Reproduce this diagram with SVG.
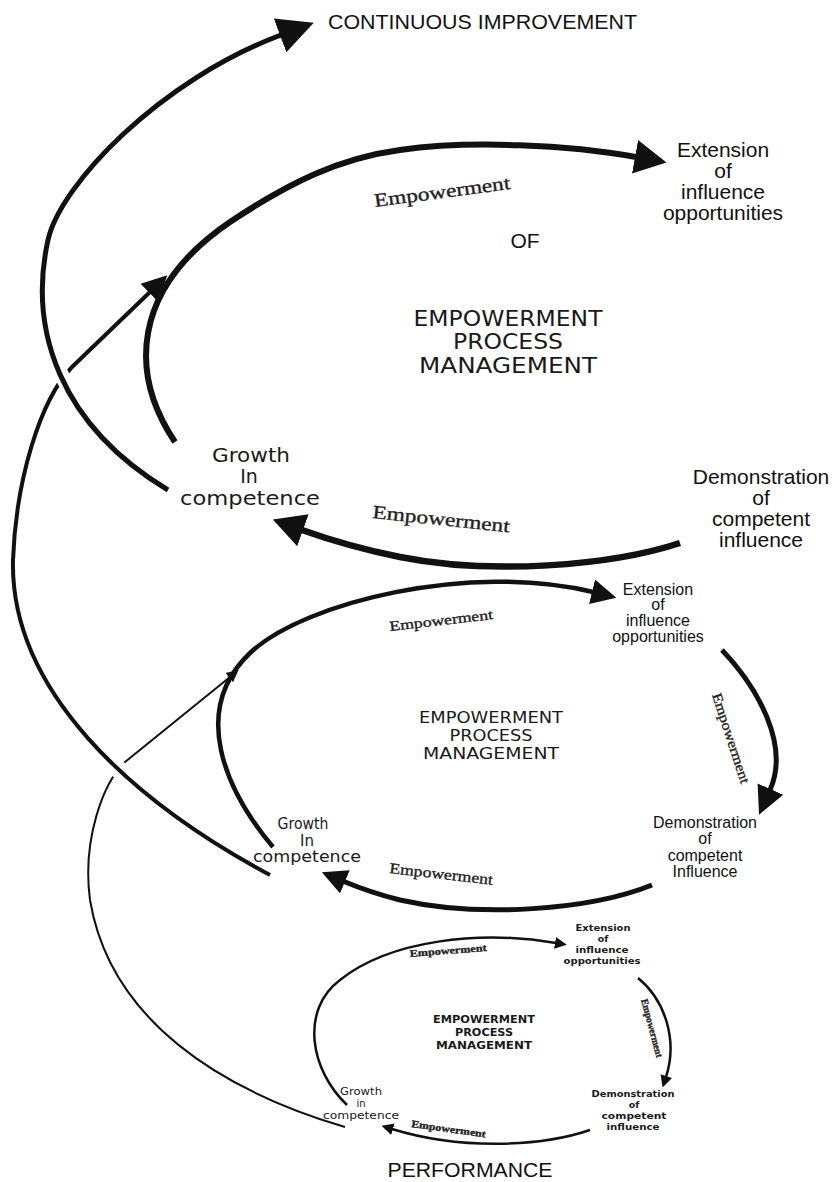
<svg xmlns="http://www.w3.org/2000/svg" width="834" height="1182" viewBox="0 0 834 1182">
<style>
.sans{font-family:"Liberation Sans",Arial,sans-serif;fill:#111}
.geo{font-family:"DejaVu Sans",Verdana,sans-serif;fill:#1a1a1a}
.geob{font-family:"DejaVu Sans",Verdana,sans-serif;fill:#1a1a1a;font-weight:bold}
.serif{font-family:"Liberation Serif","Times New Roman",serif;fill:#222;stroke:#222;stroke-width:0.35}
.c{text-anchor:middle}
.arc{fill:none;stroke:#111;stroke-linecap:butt;stroke-linejoin:round}
.halo{fill:none;stroke:#fff;stroke-linecap:butt}
</style>
<defs>
<marker id="ahXL" markerUnits="userSpaceOnUse" viewBox="0 -20 40 40" markerWidth="40" markerHeight="40" refX="1" refY="0" orient="auto"><path d="M0,-18 L36,0 L0,18 z" fill="#111"/></marker>
<marker id="ahL" markerUnits="userSpaceOnUse" viewBox="0 -20 40 40" markerWidth="40" markerHeight="40" refX="1" refY="0" orient="auto"><path d="M0,-17 L32,0 L0,17 z" fill="#111"/></marker>
<marker id="ahML" markerUnits="userSpaceOnUse" viewBox="0 -20 40 40" markerWidth="40" markerHeight="40" refX="1" refY="0" orient="auto"><path d="M0,-14 L28,0 L0,14 z" fill="#111"/></marker>
<marker id="ahM" markerUnits="userSpaceOnUse" viewBox="0 -20 40 40" markerWidth="40" markerHeight="40" refX="1" refY="0" orient="auto"><path d="M0,-12.5 L25,0 L0,12.5 z" fill="#111"/></marker>
<marker id="ahS" markerUnits="userSpaceOnUse" viewBox="0 -10 20 20" markerWidth="20" markerHeight="20" refX="1" refY="0" orient="auto"><path d="M0,-6 L12,0 L0,6 z" fill="#111"/></marker>
</defs>

<g id="connectors">
  <!-- thin spiral arc from lower loop to middle loop -->
  <path class="arc" stroke-width="2" d="M345,1127 C220,1090 110,1020 90,900 C82,840 103,783 125,762 L230,677" marker-end="url(#ahS)"/>
  <path class="halo" stroke-width="18" d="M137,786 L118,769 L100,751"/>
  <!-- spiral arc from middle loop to top loop -->
  <path class="arc" stroke-width="4" d="M270,875 C130,800 10,690 13,560 C16,480 40,400 72,367 L150,292" marker-end="url(#ahM)"/>
  <path class="halo" stroke-width="15" d="M76,402 L61,374 L51,346"/>
  <!-- spiral arc from top loop to continuous improvement -->
  <path class="arc" stroke-width="5" d="M168,490 C60,425 28,330 48,240 C60,185 160,80 281,35" marker-end="url(#ahXL)"/>

  <!-- top loop -->
  <path class="arc" stroke-width="6" d="M175,442 C130,375 130,290 230,222 C290,182 340,158 400,150 C470,140 570,145 636,157" marker-end="url(#ahL)"/>
  <path class="arc" stroke-width="6.5" d="M680,543 C610,566 490,575 400,557 C360,549 330,540 302,530" marker-end="url(#ahL)"/>

  <!-- middle loop -->
  <path class="arc" stroke-width="4.5" d="M273,847 C225,790 190,710 250,653 C304,602 470,562 593,592" marker-end="url(#ahM)"/>
  <path class="arc" stroke-width="5" d="M722,650 C758,688 790,745 770,790" marker-end="url(#ahML)"/>
  <path class="arc" stroke-width="5" d="M652,885 C590,910 480,918 400,900 C380,895 362,889 344,881.5" marker-end="url(#ahM)"/>

  <!-- bottom loop -->
  <path class="arc" stroke-width="2.5" d="M347,1105 C310,1070 300,1010 340,980 C390,940 480,930 556,943" marker-end="url(#ahS)"/>
  <path class="arc" stroke-width="2.5" d="M638,978 C665,1000 678,1040 666,1077" marker-end="url(#ahS)"/>
  <path class="arc" stroke-width="2.5" d="M590,1130 C540,1147 460,1150 392,1129" marker-end="url(#ahS)"/>

  <g id="connector-labels">
    <text class="serif" font-size="19" x="375" y="207" textLength="137" lengthAdjust="spacingAndGlyphs" transform="rotate(-7.6 375 207)">Empowerment</text>
    <text class="serif" font-size="19" x="372" y="518" textLength="138" lengthAdjust="spacingAndGlyphs" transform="rotate(6 372 518)">Empowerment</text>
    <text class="serif" font-size="14" x="390" y="631" textLength="104" lengthAdjust="spacingAndGlyphs" transform="rotate(-6.6 390 631)">Empowerment</text>
    <text class="serif" font-size="14" x="712" y="695" textLength="94" lengthAdjust="spacingAndGlyphs" transform="rotate(72 712 695)">Empowerment</text>
    <text class="serif" font-size="15" x="389" y="873" textLength="104" lengthAdjust="spacingAndGlyphs" transform="rotate(6.5 389 873)">Empowerment</text>
    <text class="serif" font-size="10" font-weight="bold" x="410" y="957" textLength="77" lengthAdjust="spacingAndGlyphs" transform="rotate(-4.5 410 957)">Empowerment</text>
    <text class="serif" font-size="10" font-weight="bold" x="641" y="1000" textLength="60" lengthAdjust="spacingAndGlyphs" transform="rotate(75 641 1000)">Empowerment</text>
    <text class="serif" font-size="10" font-weight="bold" x="411" y="1127" textLength="75" lengthAdjust="spacingAndGlyphs" transform="rotate(8 411 1127)">Empowerment</text>
  </g>
</g>

<g id="n-continuous">
  <text class="sans" font-size="21" x="328" y="29" textLength="309" lengthAdjust="spacingAndGlyphs">CONTINUOUS IMPROVEMENT</text>
</g>
<g id="n-of">
  <text class="sans c" font-size="21" x="525" y="248">OF</text>
</g>
<g id="n-performance">
  <text class="sans c" font-size="21" x="470" y="1177" textLength="165" lengthAdjust="spacingAndGlyphs">PERFORMANCE</text>
</g>

<!-- top loop nodes -->
<g id="n1-extension">
  <text class="sans c" font-size="21" x="723" y="157">Extension</text>
  <text class="sans c" font-size="21" x="723" y="178">of</text>
  <text class="sans c" font-size="21" x="723" y="199">influence</text>
  <text class="sans c" font-size="21" x="723" y="220">opportunities</text>
</g>
<g id="n1-demonstration">
  <text class="sans c" font-size="21" x="761" y="484">Demonstration</text>
  <text class="sans c" font-size="21" x="761" y="505">of</text>
  <text class="sans c" font-size="21" x="761" y="526">competent</text>
  <text class="sans c" font-size="21" x="761" y="547">influence</text>
</g>
<g id="n1-growth">
  <text class="geo c" font-size="19" x="251" y="462" textLength="78" lengthAdjust="spacingAndGlyphs">Growth</text>
  <text class="geo c" font-size="19" x="249" y="483">In</text>
  <text class="geo c" font-size="19" x="250" y="505" textLength="140" lengthAdjust="spacingAndGlyphs">competence</text>
</g>
<g id="n1-epm">
  <text class="geo c" font-size="21" x="508" y="326" textLength="189" lengthAdjust="spacingAndGlyphs">EMPOWERMENT</text>
  <text class="geo c" font-size="21" x="508" y="349" textLength="110" lengthAdjust="spacingAndGlyphs">PROCESS</text>
  <text class="geo c" font-size="21" x="508" y="373" textLength="178" lengthAdjust="spacingAndGlyphs">MANAGEMENT</text>
</g>

<!-- middle loop nodes -->
<g id="n2-extension">
  <text class="sans c" font-size="16" x="658" y="595">Extension</text>
  <text class="sans c" font-size="16" x="658" y="610">of</text>
  <text class="sans c" font-size="16" x="658" y="626">influence</text>
  <text class="sans c" font-size="16" x="658" y="642">opportunities</text>
</g>
<g id="n2-demonstration">
  <text class="sans c" font-size="16" x="705" y="828">Demonstration</text>
  <text class="sans c" font-size="16" x="705" y="844">of</text>
  <text class="sans c" font-size="16" x="705" y="861">competent</text>
  <text class="sans c" font-size="16" x="705" y="877">Influence</text>
</g>
<g id="n2-growth">
  <text class="geo c" font-size="15" x="303" y="829" textLength="51" lengthAdjust="spacingAndGlyphs">Growth</text>
  <text class="geo c" font-size="15" x="307" y="846">In</text>
  <text class="geo c" font-size="15" x="307" y="862" textLength="108" lengthAdjust="spacingAndGlyphs">competence</text>
</g>
<g id="n2-epm">
  <text class="geo c" font-size="16" x="491" y="723" textLength="144" lengthAdjust="spacingAndGlyphs">EMPOWERMENT</text>
  <text class="geo c" font-size="16" x="491" y="741" textLength="83" lengthAdjust="spacingAndGlyphs">PROCESS</text>
  <text class="geo c" font-size="16" x="491" y="759" textLength="136" lengthAdjust="spacingAndGlyphs">MANAGEMENT</text>
</g>

<!-- bottom loop nodes -->
<g id="n3-extension">
  <text class="geob c" font-size="9.5" x="603" y="931" textLength="55" lengthAdjust="spacingAndGlyphs">Extension</text>
  <text class="geob c" font-size="9.5" x="603" y="942">of</text>
  <text class="geob c" font-size="9.5" x="602" y="953" textLength="53" lengthAdjust="spacingAndGlyphs">influence</text>
  <text class="geob c" font-size="9.5" x="602" y="964" textLength="77" lengthAdjust="spacingAndGlyphs">opportunities</text>
</g>
<g id="n3-demonstration">
  <text class="geob c" font-size="9.5" x="633" y="1097" textLength="83" lengthAdjust="spacingAndGlyphs">Demonstration</text>
  <text class="geob c" font-size="9.5" x="634" y="1108">of</text>
  <text class="geob c" font-size="9.5" x="634" y="1119" textLength="65" lengthAdjust="spacingAndGlyphs">competent</text>
  <text class="geob c" font-size="9.5" x="633" y="1130" textLength="53" lengthAdjust="spacingAndGlyphs">influence</text>
</g>
<g id="n3-growth">
  <text class="geo c" font-size="10" x="361" y="1095" textLength="42" lengthAdjust="spacingAndGlyphs">Growth</text>
  <text class="geo c" font-size="10" x="361" y="1107">in</text>
  <text class="geo c" font-size="10" x="361" y="1119" textLength="76" lengthAdjust="spacingAndGlyphs">competence</text>
</g>
<g id="n3-epm">
  <text class="geob c" font-size="11" x="484" y="1023" textLength="102" lengthAdjust="spacingAndGlyphs">EMPOWERMENT</text>
  <text class="geob c" font-size="11" x="484" y="1036" textLength="58" lengthAdjust="spacingAndGlyphs">PROCESS</text>
  <text class="geob c" font-size="11" x="484" y="1049" textLength="96" lengthAdjust="spacingAndGlyphs">MANAGEMENT</text>
</g>
</svg>
